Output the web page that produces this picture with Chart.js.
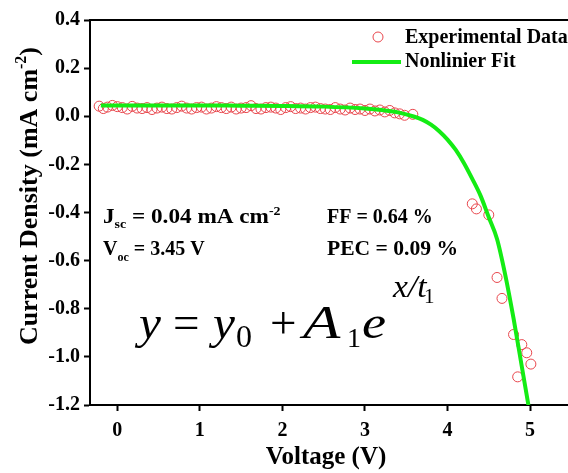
<!DOCTYPE html>
<html>
<head>
<meta charset="utf-8">
<script src="https://cdn.jsdelivr.net/npm/chart.js@4.4.1/dist/chart.umd.min.js"></script>
<style>
  html, body { margin: 0; padding: 0; background: #fff; }
  #myChart { display: block; }
</style>
</head>
<body>
<canvas id="myChart" width="568" height="473"></canvas>
<script>
// measured J-V points (V, mA cm-2)
let expV = [-0.22,-0.17,-0.12,-0.06,0.00,0.06,0.12,0.18,0.24,0.30,
  0.36,0.42,0.48,0.54,0.60,0.66,0.72,0.78,0.84,0.90,
  0.96,1.02,1.08,1.14,1.20,1.26,1.32,1.38,1.44,1.50,
  1.56,1.62,1.68,1.74,1.80,1.86,1.92,1.98,2.04,2.10,
  2.16,2.22,2.28,2.34,2.40,2.46,2.52,2.58,2.64,2.70,
  2.76,2.82,2.88,2.94,3.00,3.06,3.12,3.18,3.24,3.30,
  3.36,3.42,3.48,3.58,
  4.30,4.35,4.50,4.60,4.66,4.80,4.85,4.90,4.96,5.01];
let expJ = [0.042,0.032,0.038,0.045,0.040,0.036,0.030,0.041,0.034,0.032,
  0.036,0.028,0.034,0.038,0.032,0.030,0.036,0.042,0.034,0.030,
  0.036,0.038,0.030,0.034,0.040,0.036,0.032,0.038,0.030,0.034,
  0.036,0.044,0.032,0.030,0.036,0.038,0.034,0.028,0.036,0.040,
  0.032,0.034,0.030,0.036,0.038,0.032,0.030,0.028,0.036,0.030,
  0.026,0.034,0.028,0.030,0.024,0.030,0.022,0.026,0.018,0.024,
  0.014,0.010,0.004,0.008,
  -0.364,-0.385,-0.410,-0.670,-0.757,-0.907,-1.083,-0.949,-0.983,-1.030];

// nonlinear fit curve
let fitV = [-0.2,0.5,1.0,1.5,2.0,2.5,3.0,3.2,3.4,3.6,3.7,3.8,3.9,4.0,4.1,4.2,4.3,4.4,4.5,4.6,4.7,4.8,4.9,4.98];
let fitJ = [0.045,0.045,0.045,0.044,0.043,0.040,0.032,0.026,0.016,-0.002,-0.015,-0.035,-0.062,-0.097,-0.14,-0.195,-0.26,-0.33,-0.42,-0.51,-0.66,-0.84,-1.04,-1.2];

let xTicks = [0,1,2,3,4,5];
let yTicks = [0.4,0.2,0.0,-0.2,-0.4,-0.6,-0.8,-1.0,-1.2];

let serif = '"Liberation Serif", "Times New Roman", serif';
let red = "rgb(232,70,76)";
let green = "#14ec14";

function pieces(c, x, y, list) {
  // list: [text, font, dy]
  list.forEach(p => {
    c.font = p[1];
    c.fillText(p[0], x, y + (p[2] || 0));
    x += c.measureText(p[0]).width;
  });
}

// same, but stretched sideways by sx
function row(c, x, y, sx, list) {
  c.save();
  c.translate(x, y);
  c.scale(sx, 1);
  pieces(c, 0, 0, list);
  c.restore();
}

function put(c, t, x, y, font, sx) {
  c.save();
  c.translate(x, y);
  c.scale(sx || 1, 1);
  c.font = font;
  c.fillText(t, 0, 0);
  c.restore();
}

let extras = {
  id: "extras",
  afterDraw(chart) {
    let c = chart.ctx;
    let a = chart.chartArea;
    c.save();
    // frame: top line, and bottom axis runs on past the right edge
    c.strokeStyle = "#000";
    c.lineWidth = 2;
    c.beginPath();
    c.moveTo(a.left - 1, a.top);
    c.lineTo(chart.width, a.top);
    c.moveTo(a.right - 1, a.bottom);
    c.lineTo(chart.width, a.bottom);
    c.stroke();

    c.fillStyle = "#000";
    c.textBaseline = "alphabetic";
    c.textAlign = "left";

    // legend
    c.strokeStyle = red;
    c.lineWidth = 1;
    c.beginPath();
    c.arc(378, 37, 5, 0, Math.PI * 2);
    c.stroke();
    c.strokeStyle = green;
    c.lineWidth = 4;
    c.beginPath();
    c.moveTo(352, 62);
    c.lineTo(401, 62);
    c.stroke();
    c.font = "bold 20px " + serif;
    c.fillText("Experimental Data", 405, 43);
    c.fillText("Nonlinier Fit", 405, 67);

    // parameters
    let b = "bold 20px " + serif, s = "bold 12px " + serif;
    row(c, 103, 223, 1.16, [["J", b], ["sc", s, 5], [" = 0.04 mA cm", b], ["-2", s, -8]]);
    row(c, 103, 255, 1.0, [["V", b], ["oc", s, 6], [" = 3.45 V", b]]);
    row(c, 327, 223, 1.0, [["FF = 0.64 %", b]]);
    row(c, 327, 255, 1.08, [["PEC = 0.09 %", b]]);

    // equation
    let it = "italic 47px " + serif, rm = "47px " + serif;
    put(c, "y", 139, 338, it, 1.05);
    put(c, "=", 173, 338, rm, 1.0);
    put(c, "y", 213, 338, it, 1.05);
    put(c, "0", 236, 347, "32px " + serif);
    put(c, "+", 270, 338, rm, 1.0);
    put(c, "A", 303, 338, it, 1.3);
    put(c, "1", 347, 347, "28px " + serif);
    put(c, "e", 362, 338, it, 1.15);
    put(c, "x/t", 393, 297, "italic 32px " + serif, 1.05);
    put(c, "1", 424, 303, "21px " + serif);

    // y axis title
    c.translate(37, 196);
    c.rotate(-Math.PI / 2);
    let tb = "bold 26px " + serif, ts = "bold 16px " + serif;
    c.font = tb;
    let w1 = c.measureText("Current Density (mA cm").width;
    c.font = ts;
    let w2 = c.measureText("-2").width;
    c.font = tb;
    let w3 = c.measureText(")").width;
    pieces(c, -(w1 + w2 + w3) / 2, 0, [["Current Density (mA cm", tb], ["-2", ts, -11], [")", tb]]);
    c.restore();
  }
};

let ctx = document.getElementById("myChart");

let chartt = new Chart(ctx, {
  type: "scatter",
  data: {
    datasets: [
      {
        label: "Nonlinier Fit",
        data: fitV.map((v, i) => ({ x: v, y: fitJ[i] })),
        showLine: true,
        borderColor: green,
        borderWidth: 4,
        pointRadius: 0,
        cubicInterpolationMode: "monotone",
        order: 0,
      },
      {
        label: "Experimental Data",
        data: expV.map((v, i) => ({ x: v, y: expJ[i] })),
        pointStyle: "circle",
        pointRadius: 5,
        borderColor: red,
        backgroundColor: "rgba(0,0,0,0)",
        borderWidth: 1,
        order: 1,
      },
    ],
  },
  options: {
    responsive: false,
    animation: false,
    devicePixelRatio: 1,
    layout: { padding: { top: 20, right: 0, left: 0, bottom: 0 } },
    plugins: {
      legend: { display: false },
      tooltip: { enabled: false },
    },
    scales: {
      x: {
        type: "linear",
        min: -0.331,
        max: 5.387,
        afterFit: (s) => { s.height = 68; },
        afterBuildTicks: (s) => { s.ticks = xTicks.map(v => ({ value: v })); },
        ticks: {
          color: "#000",
          padding: 8,
          font: { family: serif, size: 20, weight: "bold" },
          callback: (v) => String(v),
        },
        grid: { drawOnChartArea: false, drawTicks: true, tickLength: 6, tickWidth: 2, tickColor: "#000" },
        border: { color: "#000", width: 2 },
        title: {
          display: true,
          text: "Voltage (V)",
          color: "#000",
          padding: 0,
          font: { family: serif, size: 25, weight: "bold" },
        },
      },
      y: {
        min: -1.2,
        max: 0.4,
        afterFit: (s) => { s.width = 90; },
        afterBuildTicks: (s) => { s.ticks = yTicks.map(v => ({ value: v })); },
        ticks: {
          color: "#000",
          padding: 4,
          font: { family: serif, size: 20, weight: "bold" },
          callback: (v) => Number(v).toFixed(1),
        },
        grid: { drawOnChartArea: false, drawTicks: true, tickLength: 6, tickWidth: 2, tickColor: "#000" },
        border: { color: "#000", width: 2 },
      },
    },
  },
  plugins: [extras],
});
</script>
</body>
</html>
